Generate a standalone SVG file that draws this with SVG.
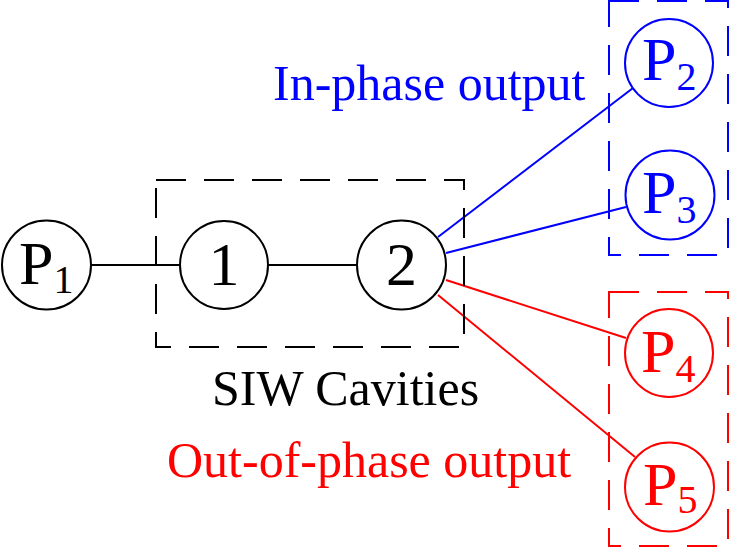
<svg xmlns="http://www.w3.org/2000/svg" width="729" height="547" viewBox="0 0 729 547">
<style>
.n{fill:#fff;stroke-width:2}
.k{stroke:#000}.b{stroke:#00f}.r{stroke:#f00}
.box{fill:none;stroke-width:2;stroke-dasharray:30 18}
.t{font-family:"Liberation Serif","Times New Roman",serif}
.big{font-size:62px}
.sub{font-size:40px}
.lbl{font-size:50px}
</style>
<rect width="729" height="547" fill="#fff"/>
<g id="connectors" stroke-width="2" fill="none">
<line x1="91" y1="265" x2="180" y2="265" stroke="#000"/>
<line x1="268" y1="265" x2="357" y2="265" stroke="#000"/>
<line x1="438" y1="237" x2="633" y2="88" stroke="#00f"/>
<line x1="446" y1="253" x2="626" y2="207" stroke="#00f"/>
<line x1="446" y1="280" x2="626" y2="338" stroke="#f00"/>
<line x1="438" y1="295" x2="635" y2="457" stroke="#f00"/>
</g>
<g id="siw-box"><rect class="box k" x="156" y="180" width="308" height="167"/>
<text class="t lbl" x="212" y="405" fill="#000">SIW Cavities</text></g>
<g id="inphase-box"><rect class="box b" x="609" y="1" width="119" height="254"/>
<text class="t lbl" x="273" y="100" fill="#00f">In-phase output</text></g>
<g id="outphase-box"><rect class="box r" x="609" y="292" width="119" height="254"/>
<text class="t lbl" x="167" y="477" fill="#f00">Out-of-phase output</text></g>
<g id="P1"><circle class="n k" cx="46.5" cy="265" r="44.5"/>
<text class="t big" x="19" y="284" fill="#000">P<tspan class="sub" y="293">1</tspan></text></g>
<g id="node1"><circle class="n k" cx="224" cy="265" r="44"/>
<text class="t big" x="224" y="285" text-anchor="middle" fill="#000">1</text></g>
<g id="node2"><circle class="n k" cx="401.5" cy="265" r="44.5"/>
<text class="t big" x="401.5" y="285" text-anchor="middle" fill="#000">2</text></g>
<g id="P2"><circle class="n b" cx="669" cy="63" r="44"/>
<text class="t big" x="642" y="80" fill="#00f">P<tspan class="sub" y="90">2</tspan></text></g>
<g id="P3"><circle class="n b" cx="670" cy="195" r="44.5"/>
<text class="t big" x="642" y="213" fill="#00f">P<tspan class="sub" y="223">3</tspan></text></g>
<g id="P4"><circle class="n r" cx="669" cy="353" r="44"/>
<text class="t big" x="641" y="372" fill="#f00">P<tspan class="sub" y="382">4</tspan></text></g>
<g id="P5"><circle class="n r" cx="669.5" cy="487" r="44.5"/>
<text class="t big" x="643" y="505" fill="#f00">P<tspan class="sub" y="513">5</tspan></text></g>
</svg>
